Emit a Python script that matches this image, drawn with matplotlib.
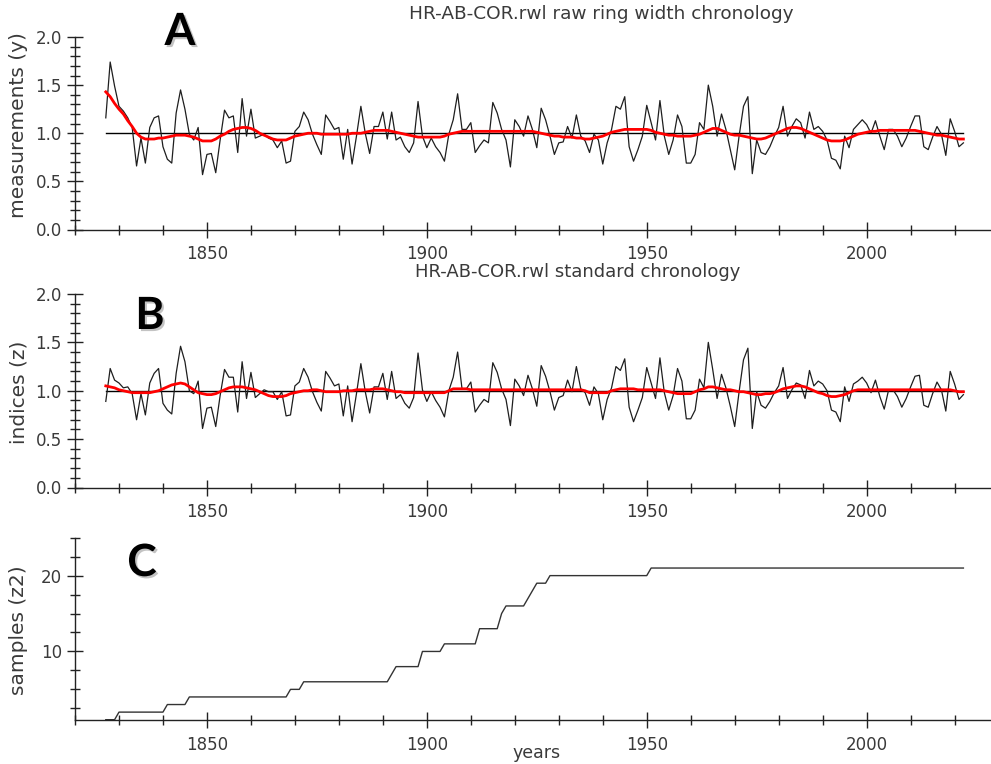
import matplotlib

matplotlib.use("Agg")

import matplotlib.pyplot as plt
import matplotlib.patheffects as pe
import numpy as np
from matplotlib.ticker import MultipleLocator

first_year = 1827

# raw ring width chronology (panel A, black) 1827-2022
raw_width = [
    1.16, 1.74, 1.49, 1.28, 1.23, 1.16, 1.06, 0.66, 0.95, 0.69,
    1.06, 1.16, 1.18, 0.86, 0.73, 0.69, 1.21, 1.45, 1.25, 0.99,
    0.93, 1.06, 0.57, 0.78, 0.79, 0.59, 0.93, 1.24, 1.16, 1.18,
    0.80, 1.36, 0.97, 1.25, 0.95, 0.97, 0.99, 0.95, 0.93, 0.85,
    0.92, 0.69, 0.71, 1.02, 1.07, 1.22, 1.14, 0.99, 0.88, 0.78,
    1.19, 1.12, 1.04, 1.06, 0.73, 1.04, 0.68, 0.97, 1.28, 1.00,
    0.79, 1.07, 1.07, 1.22, 0.94, 1.22, 0.93, 0.96, 0.86, 0.80,
    0.90, 1.33, 0.97, 0.85, 0.95, 0.86, 0.80, 0.71, 0.99, 1.14,
    1.41, 1.04, 1.04, 1.11, 0.80, 0.87, 0.93, 0.90, 1.32, 1.21,
    1.04, 0.93, 0.65, 1.14, 1.07, 0.97, 1.18, 1.04, 0.85, 1.26,
    1.14, 0.97, 0.78, 0.90, 0.91, 1.07, 0.95, 1.19, 0.97, 0.92,
    0.80, 0.99, 0.93, 0.68, 0.90, 1.04, 1.28, 1.25, 1.38, 0.86,
    0.71, 0.83, 0.97, 1.29, 1.11, 0.93, 1.34, 0.97, 0.78, 0.93,
    1.19, 1.07, 0.69, 0.69, 0.78, 1.11, 1.04, 1.50, 1.28, 0.97,
    1.20, 1.04, 0.83, 0.62, 0.97, 1.28, 1.38, 0.58, 0.93, 0.80,
    0.78, 0.86, 0.97, 1.06, 1.28, 0.97, 1.07, 1.15, 1.11, 0.95,
    1.22, 1.04, 1.07, 1.02, 0.93, 0.74, 0.72, 0.63, 0.97, 0.85,
    1.04, 1.09, 1.14, 1.09, 1.00, 1.13, 0.97, 0.83, 1.04, 1.04,
    0.97, 0.86, 0.95, 1.07, 1.18, 1.18, 0.86, 0.83, 0.96, 1.07,
    0.99, 0.77, 1.15, 1.02, 0.86, 0.90,
]

# smoothing curve of the raw chronology (panel A, red)
raw_curve = [
    1.43, 1.38, 1.31, 1.25, 1.20, 1.13, 1.07, 1.00, 0.96, 0.94,
    0.94, 0.94, 0.95, 0.95, 0.96, 0.97, 0.98, 0.98, 0.98, 0.97,
    0.96, 0.94, 0.92, 0.92, 0.92, 0.94, 0.97, 0.99, 1.02, 1.04,
    1.05, 1.06, 1.06, 1.05, 1.03, 1.00, 0.98, 0.96, 0.94, 0.93,
    0.93, 0.93, 0.95, 0.97, 0.98, 0.99, 1.00, 1.00, 1.00, 0.99,
    0.99, 0.99, 0.99, 0.99, 0.99, 0.99, 1.00, 1.00, 1.00, 1.01,
    1.02, 1.03, 1.03, 1.03, 1.03, 1.02, 1.01, 1.00, 0.99, 0.98,
    0.97, 0.96, 0.96, 0.96, 0.96, 0.96, 0.96, 0.97, 0.99, 1.00,
    1.01, 1.02, 1.02, 1.02, 1.02, 1.02, 1.02, 1.02, 1.02, 1.02,
    1.02, 1.02, 1.02, 1.02, 1.02, 1.02, 1.02, 1.02, 1.01, 1.00,
    0.99, 0.98, 0.97, 0.97, 0.96, 0.96, 0.96, 0.95, 0.95, 0.94,
    0.94, 0.95, 0.96, 0.97, 0.99, 1.01, 1.02, 1.03, 1.04, 1.04,
    1.04, 1.04, 1.04, 1.04, 1.03, 1.01, 1.00, 0.99, 0.98, 0.98,
    0.97, 0.97, 0.97, 0.97, 0.98, 0.99, 1.01, 1.03, 1.05, 1.05,
    1.03, 1.01, 0.99, 0.98, 0.98, 0.97, 0.96, 0.95, 0.94, 0.94,
    0.95, 0.97, 0.99, 1.01, 1.03, 1.05, 1.06, 1.06, 1.05, 1.03,
    1.01, 0.99, 0.97, 0.95, 0.93, 0.92, 0.92, 0.92, 0.93, 0.95,
    0.97, 0.99, 1.00, 1.01, 1.02, 1.02, 1.03, 1.03, 1.03, 1.03,
    1.03, 1.03, 1.03, 1.03, 1.03, 1.02, 1.01, 1.00, 0.99, 0.98,
    0.98, 0.97, 0.96, 0.95, 0.94, 0.94,
]

# standard chronology indices (panel B, black)
std_index = [
    0.89, 1.23, 1.11, 1.08, 1.03, 1.04, 0.97, 0.70, 0.97, 0.75,
    1.08, 1.18, 1.23, 0.87, 0.80, 0.76, 1.18, 1.46, 1.30, 1.00,
    0.97, 1.10, 0.61, 0.82, 0.83, 0.63, 0.95, 1.22, 1.14, 1.14,
    0.78, 1.30, 0.92, 1.19, 0.93, 0.97, 1.01, 0.99, 0.99, 0.91,
    0.99, 0.74, 0.75, 1.05, 1.09, 1.23, 1.14, 0.99, 0.88, 0.79,
    1.20, 1.13, 1.05, 1.07, 0.74, 1.05, 0.68, 0.97, 1.28, 0.99,
    0.77, 1.04, 1.04, 1.18, 0.91, 1.20, 0.92, 0.96, 0.87, 0.82,
    0.93, 1.39, 1.01, 0.89, 0.99, 0.90, 0.83, 0.73, 1.00, 1.14,
    1.40, 1.02, 1.02, 1.09, 0.78, 0.85, 0.91, 0.88, 1.29, 1.19,
    1.02, 0.91, 0.64, 1.12, 1.05, 0.95, 1.16, 1.02, 0.84, 1.26,
    1.15, 0.99, 0.80, 0.93, 0.95, 1.11, 0.99, 1.25, 1.02, 0.98,
    0.85, 1.04, 0.97, 0.70, 0.91, 1.03, 1.25, 1.21, 1.33, 0.83,
    0.68, 0.80, 0.93, 1.24, 1.08, 0.92, 1.34, 0.98, 0.80, 0.95,
    1.23, 1.10, 0.71, 0.71, 0.80, 1.12, 1.03, 1.50, 1.22, 0.92,
    1.17, 1.03, 0.84, 0.63, 0.99, 1.32, 1.44, 0.61, 0.99, 0.85,
    0.82, 0.89, 0.98, 1.05, 1.24, 0.92, 1.01, 1.08, 1.06, 0.92,
    1.21, 1.05, 1.10, 1.07, 1.00, 0.80, 0.78, 0.68, 1.04, 0.89,
    1.07, 1.10, 1.14, 1.08, 0.98, 1.11, 0.94, 0.81, 1.01, 1.01,
    0.94, 0.83, 0.92, 1.04, 1.15, 1.16, 0.85, 0.83, 0.97, 1.09,
    1.01, 0.79, 1.20, 1.07, 0.91, 0.96,
]

# smoothing curve of the standard chronology (panel B, red)
std_curve = [
    1.05, 1.04, 1.03, 1.01, 1.00, 0.99, 0.98, 0.98, 0.98, 0.98,
    0.98, 0.99, 1.00, 1.02, 1.04, 1.06, 1.07, 1.08, 1.07, 1.04,
    1.01, 0.98, 0.97, 0.96, 0.96, 0.97, 0.99, 1.01, 1.03, 1.04,
    1.04, 1.04, 1.03, 1.02, 1.01, 0.99, 0.97, 0.95, 0.94, 0.94,
    0.94, 0.95, 0.97, 0.98, 0.99, 1.00, 1.00, 1.01, 1.01, 1.00,
    0.99, 0.99, 0.99, 0.99, 1.00, 1.00, 1.00, 1.01, 1.01, 1.01,
    1.01, 1.02, 1.02, 1.02, 1.01, 1.00, 0.99, 0.99, 0.98, 0.98,
    0.98, 0.98, 0.98, 0.98, 0.98, 0.98, 0.98, 0.98, 1.00, 1.02,
    1.02, 1.02, 1.02, 1.01, 1.01, 1.01, 1.01, 1.01, 1.01, 1.01,
    1.01, 1.01, 1.01, 1.01, 1.01, 1.01, 1.01, 1.01, 1.01, 1.01,
    1.01, 1.01, 1.01, 1.01, 1.01, 1.01, 1.01, 1.01, 1.01, 1.00,
    0.98, 0.98, 0.98, 0.98, 0.98, 1.00, 1.01, 1.02, 1.02, 1.02,
    1.02, 1.01, 1.01, 1.01, 1.01, 1.01, 1.01, 1.00, 0.99, 0.98,
    0.97, 0.97, 0.97, 0.97, 0.99, 1.01, 1.02, 1.04, 1.04, 1.03,
    1.02, 1.01, 1.01, 1.00, 0.99, 0.99, 0.98, 0.97, 0.96, 0.96,
    0.97, 0.97, 0.98, 1.00, 1.02, 1.03, 1.04, 1.05, 1.05, 1.04,
    1.02, 1.00, 0.98, 0.97, 0.95, 0.94, 0.94, 0.95, 0.96, 0.98,
    1.00, 1.01, 1.01, 1.01, 1.01, 1.01, 1.01, 1.01, 1.01, 1.01,
    1.01, 1.01, 1.01, 1.01, 1.01, 1.01, 1.01, 1.01, 1.01, 1.01,
    1.01, 1.01, 1.01, 1.00, 0.99, 0.99,
]

# number of samples per year (panel C)
sample_depth = (
    [1] * 3 + [2] * 11 + [3] * 5 + [4] * 23 + [5] * 3 + [6] * 20 + [7] * 1
    + [8] * 6 + [10] * 5 + [11] * 8 + [13] * 5 + [15] * 1 + [16] * 5
    + [17] * 1 + [18] * 1 + [19] * 3 + [20] * 23 + [21] * 72
)

years = np.arange(first_year, first_year + len(raw_width))

W, H = 991, 764
fig = plt.figure(figsize=(W / 100, H / 100), dpi=100)


def px_axes(top, bottom):
    # left spine at 1820, 4.398 px per year
    left = 75.0
    width = 210 * 4.398
    return fig.add_axes([left / W, 1 - bottom / H, width / W, (bottom - top) / H])


def style(ax):
    for s in ("top", "right"):
        ax.spines[s].set_visible(False)
    for s in ("left", "bottom"):
        ax.spines[s].set_linewidth(1.0)
        ax.spines[s].set_color("#222222")
    ax.set_xlim(1820, 2030)
    ax.xaxis.set_major_locator(MultipleLocator(50))
    ax.xaxis.set_minor_locator(MultipleLocator(10))
    ax.tick_params(which="major", direction="inout", length=11, width=1.0,
                   colors="#222222", labelsize=12, pad=4)
    ax.tick_params(which="minor", direction="inout", length=7, width=1.0,
                   colors="#222222")
    ax.tick_params(axis="x", which="major", pad=6)
    for lab in ax.get_xticklabels() + ax.get_yticklabels():
        lab.set_color("#3a3a3a")


ink = "#1e1e1e"

# panel A
axA = px_axes(37, 229.5)
axA.plot([years[0], years[-1]], [1, 1], color="black", lw=1.0)
axA.plot(years, raw_width, color=ink, lw=0.9)
axA.plot(years, raw_curve, color="#ff0000", lw=2.0)
axA.set_ylim(0, 2)
axA.yaxis.set_major_locator(MultipleLocator(0.5))
axA.yaxis.set_minor_locator(MultipleLocator(0.1))
axA.yaxis.set_major_formatter("{x:.1f}")
style(axA)

# panel B
axB = px_axes(294, 487.5)
axB.plot([years[0], years[-1]], [1, 1], color="black", lw=1.0)
axB.plot(years, std_index, color=ink, lw=0.9)
axB.plot(years, std_curve, color="#ff0000", lw=2.0)
axB.set_ylim(0, 2)
axB.yaxis.set_major_locator(MultipleLocator(0.5))
axB.yaxis.set_minor_locator(MultipleLocator(0.1))
axB.yaxis.set_major_formatter("{x:.1f}")
style(axB)

# panel C
axC = px_axes(537.7, 719.7)
axC.plot(years, sample_depth, color="#333333", lw=1.0)
axC.set_ylim(1, 25)
axC.set_yticks([10, 20])
axC.yaxis.set_minor_locator(MultipleLocator(2.5))
style(axC)

lab = dict(color="#3a3a3a", fontsize=14.5, rotation=90, ha="center", va="center")
fig.text(19 / W, 1 - 125 / H, "measurements (y)", **lab)
fig.text(19 / W, 1 - 392 / H, "indices (z)", **lab)
fig.text(19 / W, 1 - 630 / H, "samples (z2)", **lab)
fig.text(537 / W, 1 - 753 / H, "years", ha="center", va="center",
         color="#3a3a3a", fontsize=12.5)
fig.text(601 / W, 1 - 14 / H, "HR-AB-COR.rwl raw ring width chronology",
         ha="center", va="center", color="#3a3a3a", fontsize=13.3)
fig.text(578 / W, 1 - 272 / H, "HR-AB-COR.rwl standard chronology",
         ha="center", va="center", color="#3a3a3a", fontsize=13.0)

shadow = [pe.withSimplePatchShadow(offset=(1.5, -1.5), shadow_rgbFace="#888888", alpha=0.5)]
for letter, x, y in (("A", 180, 32), ("B", 150, 316), ("C", 142, 563)):
    fig.text(x / W, 1 - y / H, letter, ha="center", va="center", fontsize=32,
             family="Lato", weight="bold", color="black", path_effects=shadow)

fig.savefig("out.png", dpi=100)
